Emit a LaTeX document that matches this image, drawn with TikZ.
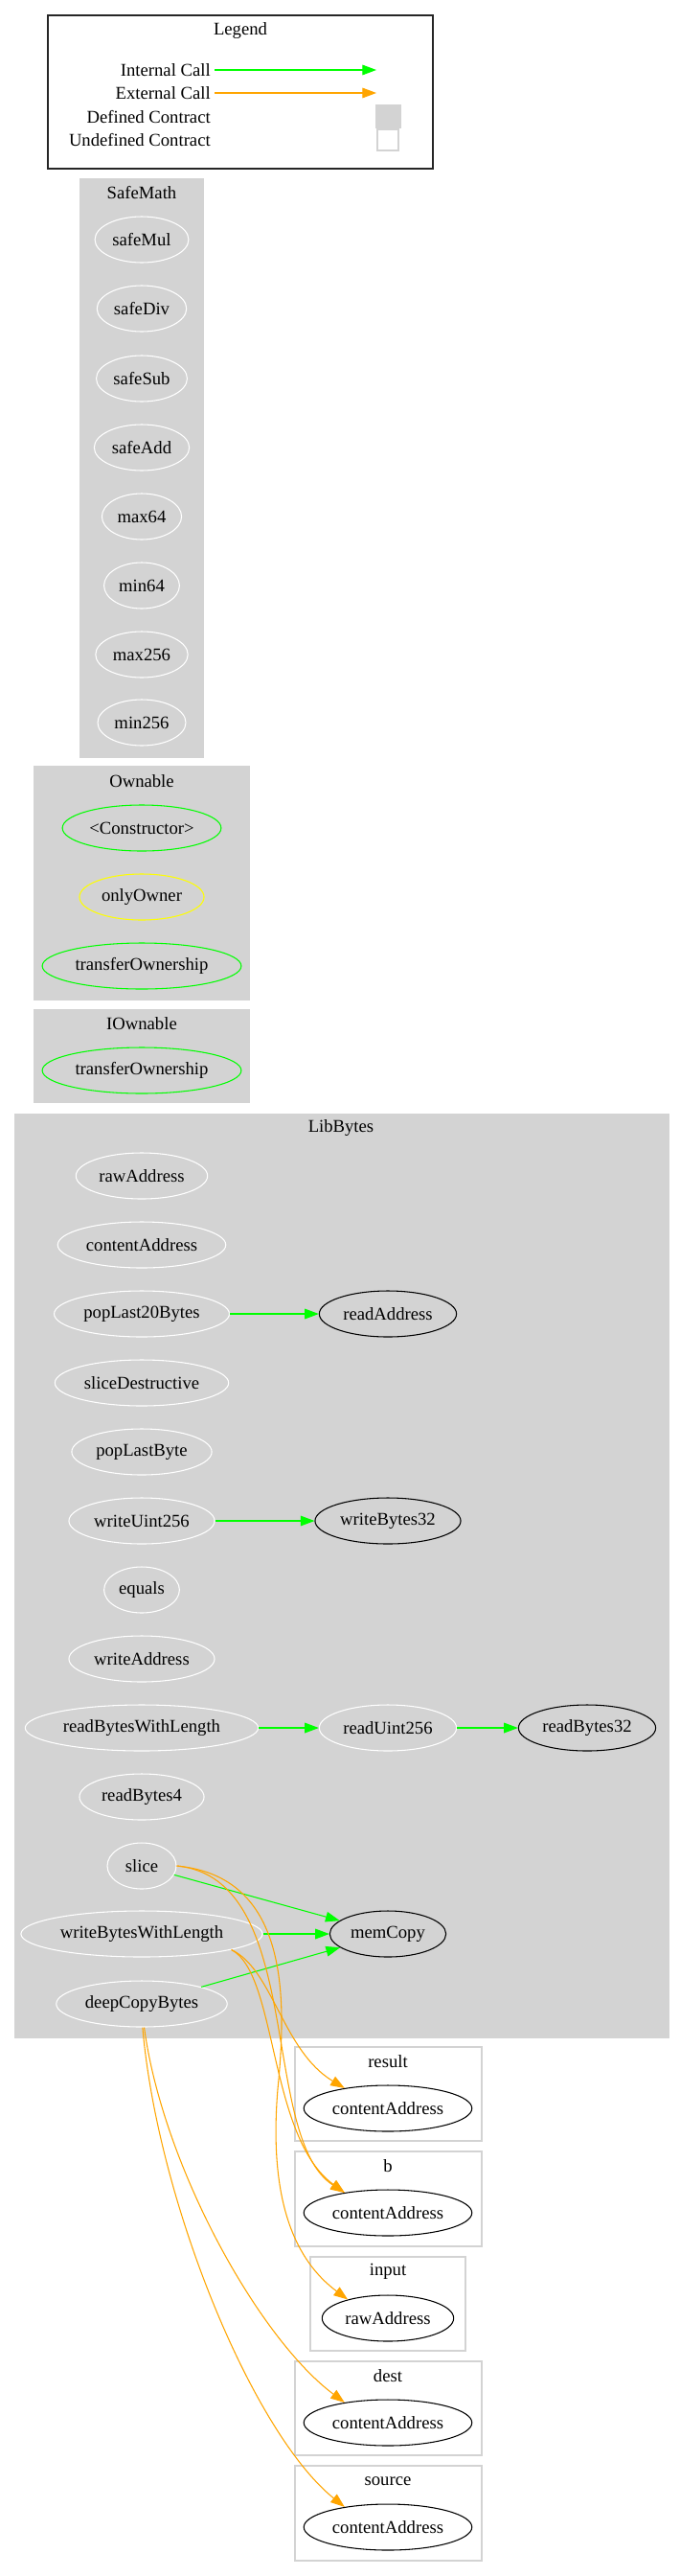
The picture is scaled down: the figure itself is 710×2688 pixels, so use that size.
\documentclass[tikz,border=0pt]{standalone}
\usepackage{fontspec}
\setmainfont{Liberation Serif}
\usetikzlibrary{positioning,shapes.geometric,arrows.meta,backgrounds}
\definecolor{ctgray}{HTML}{D3D3D3}
\definecolor{icgreen}{HTML}{00FF00}
\definecolor{ecorange}{HTML}{FFA500}
\definecolor{modyellow}{HTML}{FFFF00}
\tikzset{
  fnb/.style={ellipse, draw=white, line width=0.8pt, minimum height=36pt,
    minimum width=54pt, inner xsep=3pt, inner ysep=0pt},
  extb/.style={fnb, draw=black},
  ctorb/.style={fnb, draw=icgreen},
  modb/.style={fnb, draw=modyellow},
  ctbg/.style={fill=ctgray, draw=ctgray},
  udbg/.style={fill=white, draw=ctgray, line width=1pt},
  ctlab/.style={inner sep=1pt},
  lgtxt/.style={anchor=east, inner sep=3pt},
  icall/.style={-{Triangle[length=11pt,width=8pt]}, line width=0.8pt, draw=icgreen},
  ecall/.style={-{Triangle[length=11pt,width=8pt]}, line width=0.8pt, draw=ecorange},
}

\begin{document}
\begin{tikzpicture}[x=0.75pt, y=-0.75pt, font=\fontsize{14}{16}\selectfont]
    \useasboundingbox (0,0) rectangle (710,2688);
    % legend
    \draw[line width=1pt, draw=black!85] (50,16) rectangle (452,176);
    \node[ctlab] (lgtitle) at (251,32) {Legend};
    \node[lgtxt] (lgint) at (224,73) {Internal Call};
    \node[lgtxt] (lgext) at (224,97) {External Call};
    \node[lgtxt] (lgdeftxt) at (224,122) {Defined Contract};
    \node[lgtxt] (lgundeftxt) at (224,146) {Undefined Contract};
    \coordinate (lgintend) at (393,73);
    \coordinate (lgextend) at (393,97);
    \draw[icall] (lgint) -- (lgintend);
    \draw[ecall] (lgext) -- (lgextend);
    \node[ctbg, minimum width=19.5pt, minimum height=18pt, inner sep=0pt] (lgdef) at (405,121) {};
    \node[udbg, minimum width=16.5pt, minimum height=16.5pt, inner sep=0pt] (lgundef) at (405,146) {};
    % SafeMath
    \node[ctlab] (tsafemath) at (148,201) {SafeMath};
    \node[fnb] (smmul) at (148,250) {safeMul};
    \node[fnb] (smdiv) at (148,322) {safeDiv};
    \node[fnb] (smsub) at (148,395) {safeSub};
    \node[fnb] (smadd) at (148,467) {safeAdd};
    \node[fnb] (smmaxa) at (148,539) {max64};
    \node[fnb] (smmina) at (148,611) {min64};
    \node[fnb] (smmaxb) at (148,683) {max256};
    \node[fnb] (smminb) at (148,754) {min256};
    % Ownable, IOwnable
    \node[ctlab] (townable) at (148,815) {Ownable};
    \node[ctorb] (owctor) at (148,864) {<Constructor>};
    \node[modb] (owmod) at (148,936) {onlyOwner};
    \node[ctorb] (owxfer) at (148,1008) {transferOwnership};
    \node[ctlab] (tiownable) at (148,1068) {IOwnable};
    \node[ctorb] (iowxfer) at (148,1117) {transferOwnership};
    % LibBytes
    \node[ctlab] (tlibbytes) at (356,1177) {LibBytes};
    \node[fnb] (lbraw) at (148,1227) {rawAddress};
    \node[fnb] (lbcontent) at (148,1299) {contentAddress};
    \node[fnb] (lbpoptw) at (148,1371) {popLast20Bytes};
    \node[fnb] (lbslicedes) at (148,1443) {sliceDestructive};
    \node[fnb] (lbpopbyte) at (148,1515) {popLastByte};
    \node[fnb] (lbwuint) at (148,1587) {writeUint256};
    \node[fnb] (lbequals) at (148,1659) {equals};
    \node[fnb] (lbwaddr) at (148,1731) {writeAddress};
    \node[fnb] (lbrbwl) at (148,1803) {readBytesWithLength};
    \node[fnb] (lbrbfour) at (148,1875) {readBytes4};
    \node[fnb] (lbslice) at (148,1947) {slice};
    \node[fnb] (lbwbwl) at (148,2018) {writeBytesWithLength};
    \node[fnb] (lbdcb) at (148,2091) {deepCopyBytes};
    \node[extb] (lbreadaddr) at (405,1371) {readAddress};
    \node[extb] (lbwbtt) at (405,1587) {writeBytes32};
    \node[fnb] (lbruint) at (405,1803) {readUint256};
    \node[extb] (lbrbtt) at (613,1803) {readBytes32};
    \node[extb] (lbmemcopy) at (405,2018) {memCopy};
    % undefined contracts
    \node[ctlab] (tresult) at (405,2151) {result};
    \node[extb] (rescontent) at (405,2200) {contentAddress};
    \node[ctlab] (tb) at (405,2260) {b};
    \node[extb] (bcontent) at (405,2309) {contentAddress};
    \node[ctlab] (tinput) at (405,2370) {input};
    \node[extb] (inpraw) at (405,2419) {rawAddress};
    \node[ctlab] (tdest) at (405,2479) {dest};
    \node[extb] (dstcontent) at (405,2528) {contentAddress};
    \node[ctlab] (tsource) at (405,2589) {source};
    \node[extb] (srccontent) at (405,2637) {contentAddress};
    % internal calls
    \draw[icall] (lbpoptw) -- (lbreadaddr);
    \draw[icall] (lbwuint) -- (lbwbtt);
    \draw[icall] (lbrbwl) -- (lbruint);
    \draw[icall] (lbruint) -- (lbrbtt);
    \draw[icall] (lbslice) -- (lbmemcopy);
    \draw[icall] (lbwbwl) -- (lbmemcopy);
    \draw[icall] (lbdcb) -- (lbmemcopy);
    % external calls
    \draw[ecall] (lbwbwl.-10) .. controls (285,2055) and (295,2140) .. (rescontent.155);
    \draw[ecall] (lbwbwl.-10) .. controls (290,2060) and (280,2230) .. (bcontent.155);
    \draw[ecall] (lbslice.east) .. controls (320,1960) and (270,2230) .. (bcontent.155);
    \draw[ecall] (lbslice.east) .. controls (300,1958) and (300,2080) .. (290,2180)
      .. controls (280,2300) and (310,2360) .. (inpraw.155);
    \draw[ecall] (lbdcb.-84) .. controls (170,2260) and (270,2440) .. (dstcontent.155);
    \draw[ecall] (lbdcb.-88) .. controls (165,2300) and (265,2540) .. (srccontent.155);
    % backgrounds
    \begin{scope}[on background layer]
      \path[ctbg] (83,186) rectangle (212,790);
      \path[ctbg] (35,799) rectangle (260,1043);
      \path[ctbg] (35,1053) rectangle (260,1150);
      \path[ctbg] (15,1162) rectangle (698,2126);
      \path[udbg] (308,2136) rectangle (503,2234);
      \path[udbg] (308,2245) rectangle (503,2344);
      \path[udbg] (324,2355) rectangle (486,2453);
      \path[udbg] (308,2464) rectangle (503,2562);
      \path[udbg] (308,2573) rectangle (503,2672);
    \end{scope}
\end{tikzpicture}
\end{document}
